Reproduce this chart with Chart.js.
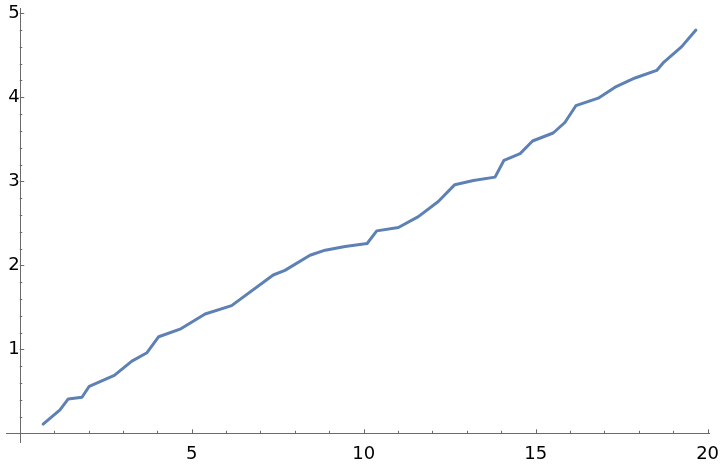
<!DOCTYPE html>
<html>
<head>
<meta charset="utf-8">
<script src="https://cdn.jsdelivr.net/npm/chart.js@4"></script>
<style>
  body { margin: 0; background: #fff; }
</style>
</head>
<body>
<canvas id="myChart" width="720" height="466"></canvas>
<script>
// values
const xValues = [0.68, 1.17, 1.41, 1.81, 2.02, 2.75, 3.26, 3.70, 4.04, 4.66,
  5.39, 6.16, 7.37, 7.71, 8.44, 8.88, 9.46, 10.10, 10.38, 11.01,
  11.59, 12.17, 12.65, 13.19, 13.82, 14.08, 14.55, 14.91, 15.51, 15.85,
  16.17, 16.82, 17.31, 17.89, 18.52, 18.73, 19.24, 19.66];
const yValues = [0.11, 0.28, 0.41, 0.43, 0.56, 0.69, 0.86, 0.96, 1.15, 1.24,
  1.42, 1.52, 1.885, 1.94, 2.12, 2.18, 2.225, 2.26, 2.41, 2.45,
  2.58, 2.76, 2.96, 3.01, 3.05, 3.25, 3.33, 3.48, 3.575, 3.70,
  3.90, 3.99, 4.12, 4.23, 4.32, 4.42, 4.60, 4.80];

const xTicks = [5, 10, 15, 20];
const yTicks = [1, 2, 3, 4, 5];
const xMinorTicks = [1, 2, 3, 4, 6, 7, 8, 9, 11, 12, 13, 14, 16, 17, 18, 19];
const yMinorTicks = [0.2, 0.4, 0.6, 0.8, 1.2, 1.4, 1.6, 1.8, 2.2, 2.4, 2.6, 2.8,
  3.2, 3.4, 3.6, 3.8, 4.2, 4.4, 4.6, 4.8];

const axisColor = "#6a6a6a";

// axis lines + inward ticks like the original
const axesPlugin = {
  id: "axesPlugin",
  beforeDatasetsDraw(chart) {
    const { ctx, chartArea, scales } = chart;
    const x = scales.x;
    const y = scales.y;
    const x0 = x.getPixelForValue(0);
    const y0 = y.getPixelForValue(0);
    ctx.save();
    ctx.strokeStyle = axisColor;
    ctx.lineWidth = 1;
    ctx.beginPath();
    ctx.moveTo(chartArea.left, Math.round(y0) + 0.5);
    ctx.lineTo(chartArea.right, Math.round(y0) + 0.5);
    ctx.moveTo(Math.round(x0) + 0.5, chartArea.top);
    ctx.lineTo(Math.round(x0) + 0.5, chartArea.bottom);

    xTicks.forEach((v) => {
      const px = Math.round(x.getPixelForValue(v)) + 0.5;
      ctx.moveTo(px, y0);
      ctx.lineTo(px, y0 - 4);
    });
    xMinorTicks.forEach((v) => {
      const px = Math.round(x.getPixelForValue(v)) + 0.5;
      ctx.moveTo(px, y0);
      ctx.lineTo(px, y0 - 2.5);
    });
    yTicks.forEach((v) => {
      const py = Math.round(y.getPixelForValue(v)) + 0.5;
      ctx.moveTo(x0, py);
      ctx.lineTo(x0 + 4.5, py);
    });
    yMinorTicks.forEach((v) => {
      const py = Math.round(y.getPixelForValue(v)) + 0.5;
      ctx.moveTo(x0, py);
      ctx.lineTo(x0 + 2.5, py);
    });
    ctx.stroke();
    ctx.restore();
  },
};

// labels may hang outside the plot area, don't let them shrink it
function noOverflow(scale) {
  scale.paddingLeft = 0;
  scale.paddingRight = 0;
  scale.paddingTop = 0;
  scale.paddingBottom = 0;
}

const points = xValues.map((v, i) => ({ x: v, y: yValues[i] }));

new Chart("myChart", {
  type: "line",
  data: {
    datasets: [
      {
        data: points,
        borderColor: "#5e81b5",
        borderWidth: 3,
        pointRadius: 0,
        tension: 0,
        fill: false,
        borderJoinStyle: "round",
        borderCapStyle: "round",
      },
    ],
  },
  options: {
    responsive: false,
    animation: false,
    devicePixelRatio: 1,
    layout: {
      padding: { left: 6, right: 10, top: 8, bottom: 23 },
    },
    plugins: {
      legend: { display: false },
      tooltip: { enabled: false },
    },
    scales: {
      x: {
        type: "linear",
        position: { y: 0 },
        min: -0.4,
        max: 20.07,
        afterBuildTicks: (scale) => {
          scale.ticks = xTicks.map((v) => ({ value: v }));
        },
        afterFit: noOverflow,
        grid: { display: false, drawTicks: false },
        border: { display: false },
        ticks: {
          padding: 10,
          color: "#000",
          maxRotation: 0,
          font: { family: "DejaVu Sans", size: 18 },
        },
      },
      y: {
        type: "linear",
        position: { x: 0 },
        min: -0.115,
        max: 5.063,
        afterBuildTicks: (scale) => {
          scale.ticks = yTicks.map((v) => ({ value: v }));
        },
        afterFit: noOverflow,
        grid: { display: false, drawTicks: false },
        border: { display: false },
        ticks: {
          padding: 7,
          color: "#000",
          font: { family: "DejaVu Sans", size: 18 },
        },
      },
    },
  },
  plugins: [axesPlugin],
});
</script>
</body>
</html>
